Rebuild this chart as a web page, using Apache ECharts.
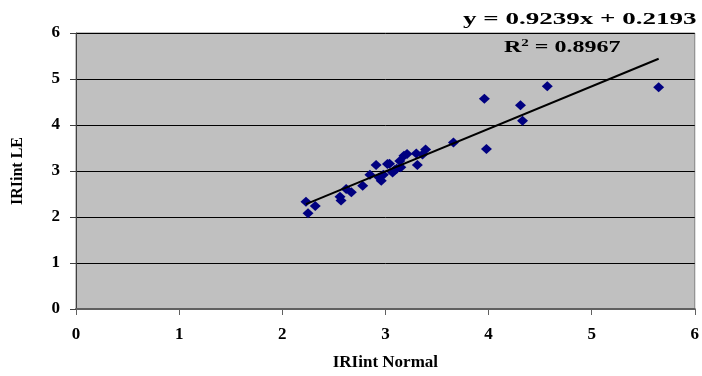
<!DOCTYPE html>
<html>
<head>
<meta charset="utf-8">
<script src="https://cdn.jsdelivr.net/npm/echarts@6/dist/echarts.min.js"></script>
<style>
  html, body { margin: 0; padding: 0; background: #fff; }
  #chart { width: 702px; height: 376px; }
</style>
</head>
<body>
<div id="chart"></div>
<script>
// IRIint measured normally vs with LE
const iriNormal = [
  2.23, 2.25, 2.32, 2.56, 2.57, 2.62, 2.67, 2.78, 2.85, 2.91,
  2.94, 2.96, 2.98, 3.02, 3.04, 3.07, 3.09, 3.11, 3.14, 3.15,
  3.18, 3.21, 3.30, 3.31, 3.36, 3.39, 3.66, 3.96, 3.98, 4.31,
  4.33, 4.57, 5.65
];
const iriLE = [
  2.33, 2.08, 2.24, 2.44, 2.36, 2.61, 2.54, 2.68, 2.92, 3.13,
  2.86, 2.79, 2.92, 3.15, 3.16, 2.97, 3.02, 3.05, 3.22, 3.08,
  3.33, 3.37, 3.38, 3.13, 3.36, 3.47, 3.62, 4.57, 3.48, 4.43,
  4.09, 4.84, 4.82
];
const fitSlope = 0.9239;
const fitIntercept = 0.2193;
const rSquared = 0.8967;
const axisTicks = [0, 1, 2, 3, 4, 5, 6];

const points = iriNormal.map((x, i) => [x, iriLE[i]]);
const xMin = Math.min(...iriNormal);
const xMax = Math.max(...iriNormal);
const trend = [xMin, xMax].map(x => [x, fitSlope * x + fitIntercept]);

const font = "'Liberation Serif', 'Times New Roman', serif";

const chart = echarts.init(document.getElementById("chart"), null, { renderer: "canvas" });

chart.setOption({
  animation: false,
  grid: {
    left: 76, right: 6, top: 33, bottom: 62,
    show: true,
    backgroundColor: "#c0c0c0",
    borderColor: "#808080",
    borderWidth: 1
  },
  xAxis: {
    type: "value",
    min: axisTicks[0],
    max: axisTicks[axisTicks.length - 1],
    interval: 1,
    name: "IRIint Normal",
    nameLocation: "middle",
    nameGap: 45,
    nameTextStyle: { fontFamily: font, fontWeight: "bold", fontSize: 17, color: "#000" },
    axisLine: { show: true, lineStyle: { color: "#606060", width: 2 } },
    axisTick: { show: true, length: 6, lineStyle: { color: "#606060" } },
    axisLabel: { fontFamily: font, fontWeight: "bold", fontSize: 17, color: "#000", margin: 17 },
    splitLine: { show: false }
  },
  yAxis: {
    type: "value",
    min: axisTicks[0],
    max: axisTicks[axisTicks.length - 1],
    interval: 1,
    name: "IRIint LE",
    nameLocation: "middle",
    nameGap: 50,
    nameTextStyle: { fontFamily: font, fontWeight: "bold", fontSize: 16, color: "#000" },
    axisLine: { show: true, lineStyle: { color: "#404040", width: 1 } },
    axisTick: { show: true, length: 6, lineStyle: { color: "#404040" } },
    axisLabel: { fontFamily: font, fontWeight: "bold", fontSize: 17, color: "#000", margin: 16 },
    splitLine: { show: true, lineStyle: { color: "#000", width: 1 } }
  },
  series: [
    {
      type: "scatter",
      data: points,
      symbol: "diamond",
      symbolSize: [11, 10],
      itemStyle: { color: "#000080", opacity: 1 },
      z: 3
    },
    {
      type: "line",
      data: trend,
      symbol: "none",
      lineStyle: { color: "#000", width: 2 },
      z: 4
    }
  ],
  graphic: [
    {
      type: "text",
      x: 463, y: 20,
      scaleX: 1.69,
      style: {
        text: "y = " + fitSlope + "x + " + fitIntercept,
        font: "bold 16px " + font,
        fill: "#000",
        verticalAlign: "middle"
      }
    },
    {
      type: "text",
      x: 504, y: 47,
      scaleX: 1.5,
      style: {
        text: "{b|R}{s|2}{b| = " + rSquared + "}",
        verticalAlign: "middle",
        rich: {
          b: { font: "bold 16px " + font, fill: "#000", verticalAlign: "bottom" },
          s: { font: "bold 10px " + font, fill: "#000", verticalAlign: "top", padding: [0, 0, 8, 0] }
        }
      }
    }
  ]
});
</script>
</body>
</html>
